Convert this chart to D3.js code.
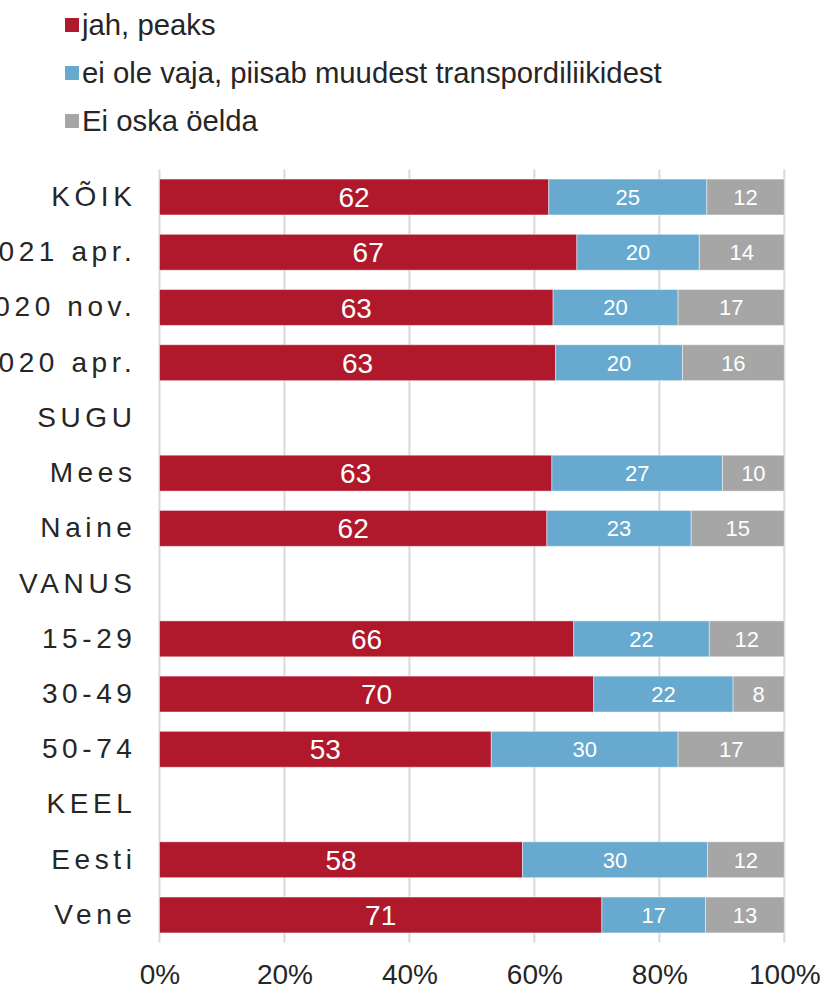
<!DOCTYPE html>
<html>
<head>
<meta charset="utf-8">
<script src="https://d3js.org/d3.v7.min.js"></script>
<style>
  body { margin: 0; background: #fff; }
  text { font-family: "Liberation Sans", Arial, sans-serif; }
</style>
</head>
<body>
<div id="chart"></div>
<script>
// Chart data (percent)
var categories = ["KÕIK", "2021 apr.", "2020 nov.", "2020 apr.", "SUGU", "Mees", "Naine",
    "VANUS", "15-29", "30-49", "50-74", "KEEL", "Eesti", "Vene"];
var jahPeaks = [62.3, 66.8, 63.0, 63.4, null, 62.8, 62.0, null, 66.3, 69.5, 53.1, null, 58.1, 70.8];
var eiOleVaja = [25.3, 19.6, 20.0, 20.3, null, 27.3, 23.1, null, 21.7, 22.3, 29.9, null, 29.6, 16.6];
var eiOska = [12.4, 13.6, 17.0, 16.3, null, 9.9, 14.9, null, 12.0, 8.2, 17.0, null, 12.3, 12.6];
var seriesNames = ["jah, peaks", "ei ole vaja, piisab muudest transpordiliikidest", "Ei oska öelda"];
var xTicks = [0, 20, 40, 60, 80, 100];

var colors = ["#B0182C", "#67A9CF", "#A6A6A6"];

var svgWidth = 824;
var svgHeight = 990;

var margin = {
    top: 169.4,
    right: 40,
    bottom: 47.4,
    left: 159.5
};

var width = svgWidth - margin.left - margin.right;
var height = svgHeight - margin.top - margin.bottom;

var svg = d3.select("#chart")
    .append("svg")
    .attr("width", svgWidth)
    .attr("height", svgHeight);

var chartGroup = svg.append("g")
    .attr("transform", `translate(${margin.left}, ${margin.top})`);

// Scales
var xScale = d3.scaleLinear()
    .domain([0, 100])
    .range([0, 624.8]);

var yScale = d3.scaleBand()
    .domain(categories)
    .range([0, height])
    .paddingInner(0.35)
    .paddingOuter(0.175);

// Gridlines
chartGroup.append("g")
    .selectAll("line")
    .data(xTicks)
    .enter()
    .append("line")
    .attr("x1", d => xScale(d))
    .attr("x2", d => xScale(d))
    .attr("y1", 0)
    .attr("y2", height)
    .attr("stroke", "#D9D9D9")
    .attr("stroke-width", 2);

// Build stacked rows
var rows = categories.map((c, i) => ({
    cat: c,
    vals: [jahPeaks[i], eiOleVaja[i], eiOska[i]]
}));

rows.forEach(row => {
    if (row.vals[0] === null) return;
    var x0 = 0;
    row.vals.forEach((v, k) => {
        var start = x0;
        x0 += v;
        chartGroup.append("rect")
            .attr("x", xScale(start))
            .attr("y", yScale(row.cat))
            .attr("width", xScale(x0) - xScale(start))
            .attr("height", yScale.bandwidth())
            .attr("fill", colors[k])
            .attr("stroke", "rgba(255,255,255,0.45)")
            .attr("stroke-width", 1);

        chartGroup.append("text")
            .attr("x", (xScale(start) + xScale(x0)) / 2)
            .attr("y", yScale(row.cat) + yScale.bandwidth() / 2)
            .attr("dy", "0.36em")
            .attr("text-anchor", "middle")
            .attr("fill", "#fff")
            .style("font-size", k === 0 ? "28px" : "22px")
            .text(Math.round(v));
    });
});

// Category axis
var leftAxis = d3.axisLeft(yScale).tickSize(0).tickPadding(23);
var yAxisGroup = chartGroup.append("g").call(leftAxis);
yAxisGroup.select(".domain").remove();
yAxisGroup.selectAll("text")
    .attr("fill", "#262626")
    .style("font-size", "28px")
    .style("letter-spacing", "4.6px");

// Percent axis
var bottomAxis = d3.axisBottom(xScale)
    .tickValues(xTicks)
    .tickFormat(d => d + "%")
    .tickSize(0)
    .tickPadding(22);
var xAxisGroup = chartGroup.append("g")
    .attr("transform", `translate(0, ${height})`)
    .call(bottomAxis);
xAxisGroup.select(".domain").remove();
xAxisGroup.selectAll("text")
    .attr("fill", "#262626")
    .style("font-size", "28px");

// Legend
var legend = svg.append("g")
    .attr("transform", "translate(65, 25)");

seriesNames.forEach((name, i) => {
    legend.append("rect")
        .attr("x", 0)
        .attr("y", i * 48 - 7)
        .attr("width", 14)
        .attr("height", 14)
        .attr("fill", colors[i]);
    legend.append("text")
        .attr("x", 17)
        .attr("y", i * 48)
        .attr("dy", "0.35em")
        .attr("fill", "#262626")
        .style("font-size", "29.3px")
        .text(name);
});
</script>
</body>
</html>
